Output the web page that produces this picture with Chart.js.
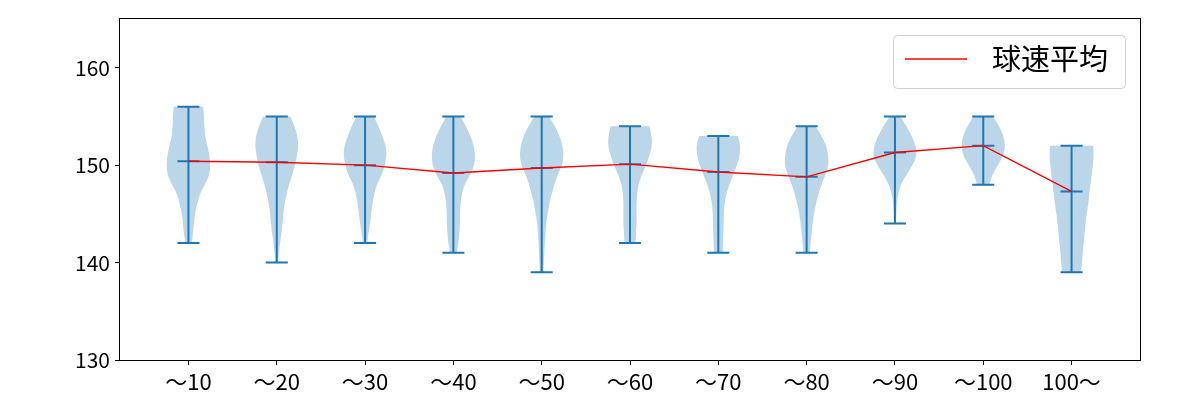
<!DOCTYPE html>
<html>
<head>
<meta charset="utf-8">
<script src="https://cdn.jsdelivr.net/npm/chart.js@4"></script>
<style>
  html, body { margin: 0; padding: 0; background: #fff; }
  #wrap { width: 1200px; height: 400px; }
</style>
</head>
<body>
<div id="wrap"><canvas id="chart" width="1200" height="400"></canvas></div>
<script>
// カテゴリ
const labels = ['〜10', '〜20', '〜30', '〜40', '〜50', '〜60', '〜70', '〜80', '〜90', '〜100', '100〜'];
// 球速平均
const means = [150.4, 150.3, 150.0, 149.2, 149.7, 150.1, 149.3, 148.8, 151.3, 152.0, 147.3];
// 最大・最小
const maxs = [156, 155, 155, 155, 155, 154, 153, 154, 155, 155, 152];
const mins = [142, 140, 142, 141, 139, 142, 141, 141, 144, 148, 139];
// バイオリンの幅 (最大から最小まで 1km/h 刻み、相対値)
const violinWidths = [
  [0.67, 0.70, 0.72, 0.75, 0.86, 0.95, 1.0, 0.95, 0.75, 0.5, 0.4, 0.29, 0.25, 0.21, 0.14],
  [0.62, 0.8, 0.94, 0.98, 0.92, 0.83, 0.7, 0.55, 0.45, 0.35, 0.3, 0.26, 0.21, 0.15, 0.1, 0.06],
  [0.4, 0.6, 0.78, 0.94, 0.98, 0.9, 0.76, 0.53, 0.41, 0.33, 0.27, 0.23, 0.15, 0.1],
  [0.32, 0.56, 0.78, 0.92, 0.99, 0.95, 0.77, 0.5, 0.38, 0.32, 0.3, 0.3, 0.27, 0.23, 0.15],
  [0.33, 0.6, 0.81, 0.95, 1.0, 0.93, 0.72, 0.57, 0.45, 0.34, 0.27, 0.2, 0.17, 0.14, 0.12, 0.1, 0.08],
  [0.88, 0.98, 1.0, 0.88, 0.73, 0.53, 0.38, 0.32, 0.29, 0.3, 0.3, 0.27, 0.25],
  [0.88, 1.0, 0.97, 0.85, 0.67, 0.5, 0.36, 0.28, 0.25, 0.24, 0.23, 0.21, 0.2],
  [0.4, 0.68, 0.89, 0.98, 1.0, 0.85, 0.67, 0.53, 0.42, 0.33, 0.27, 0.23, 0.18, 0.15],
  [0.24, 0.52, 0.76, 0.94, 1.0, 0.8, 0.52, 0.26, 0.14, 0.08, 0.06, 0.05],
  [0.44, 0.72, 0.92, 1.0, 0.92, 0.66, 0.4, 0.29],
  [0.98, 1.0, 0.97, 0.91, 0.86, 0.8, 0.76, 0.68, 0.64, 0.59, 0.55, 0.5, 0.48, 0.42]
];
const yTicks = [130, 140, 150, 160];
const legendLabel = '球速平均';

const FONT = "'Noto Sans CJK JP', 'Noto Sans', sans-serif";
const BLUE = '#1f77b4';

// バイオリン描画
const violinPlugin = {
  id: 'violins',
  beforeDatasetsDraw(chart) {
    const ctx = chart.ctx;
    const xs = chart.scales.x, ys = chart.scales.y;
    const unit = xs.getPixelForValue(1) - xs.getPixelForValue(0);
    ctx.save();
    violinWidths.forEach((ws, i) => {
      const cx = xs.getPixelForValue(i + 1);
      const pts = ws.map((w, k) => ({ y: ys.getPixelForValue(maxs[i] - k), h: w * 0.25 * unit }));
      ctx.beginPath();
      // 右側
      ctx.moveTo(cx, pts[0].y);
      ctx.lineTo(cx + pts[0].h, pts[0].y);
      for (let k = 1; k < pts.length; k++) {
        const p = pts[k - 1], q = pts[k];
        const mx = cx + (p.h + q.h) / 2, my = (p.y + q.y) / 2;
        ctx.quadraticCurveTo(cx + p.h, p.y, mx, my);
      }
      const last = pts[pts.length - 1];
      ctx.lineTo(cx + last.h, last.y);
      ctx.lineTo(cx - last.h, last.y);
      // 左側
      for (let k = pts.length - 2; k >= 0; k--) {
        const p = pts[k + 1], q = pts[k];
        const mx = cx - (p.h + q.h) / 2, my = (p.y + q.y) / 2;
        ctx.quadraticCurveTo(cx - p.h, p.y, mx, my);
      }
      ctx.lineTo(cx - pts[0].h, pts[0].y);
      ctx.closePath();
      ctx.fillStyle = 'rgba(31,119,180,0.3)';
      ctx.fill();

      // ひげ
      ctx.strokeStyle = BLUE;
      ctx.lineWidth = 2;
      const capW = 0.125 * unit;
      ctx.beginPath();
      ctx.moveTo(cx, ys.getPixelForValue(maxs[i]));
      ctx.lineTo(cx, ys.getPixelForValue(mins[i]));
      [maxs[i], mins[i], means[i]].forEach(v => {
        const y = ys.getPixelForValue(v);
        ctx.moveTo(cx - capW, y);
        ctx.lineTo(cx + capW, y);
      });
      ctx.stroke();
    });
    ctx.restore();
  },
  afterDraw(chart) {
    const ctx = chart.ctx;
    const a = chart.chartArea;
    ctx.save();
    // 枠線
    ctx.strokeStyle = '#000';
    ctx.lineWidth = 1;
    ctx.strokeRect(Math.round(a.left) - 0.5, Math.round(a.top) - 0.5, Math.round(a.right - a.left) + 1, Math.round(a.bottom - a.top) + 1);
    // 凡例
    const bx = a.right - 247, by = a.top + 16, bw = 232, bh = 53;
    ctx.beginPath();
    ctx.roundRect(bx + 0.5, by + 0.5, bw, bh, 4);
    ctx.fillStyle = 'rgba(255,255,255,0.8)';
    ctx.fill();
    ctx.strokeStyle = '#d0d0d0';
    ctx.stroke();
    ctx.strokeStyle = 'red';
    ctx.lineWidth = 1.4;
    ctx.beginPath();
    ctx.moveTo(bx + 12, by + 24);
    ctx.lineTo(bx + 74, by + 24);
    ctx.stroke();
    ctx.fillStyle = '#000';
    ctx.font = '29px ' + FONT;
    ctx.textBaseline = 'middle';
    ctx.fillText(legendLabel, bx + 99, by + 24);
    ctx.restore();
  }
};

new Chart(document.getElementById('chart'), {
  type: 'line',
  data: {
    datasets: [{
      label: legendLabel,
      data: means.map((m, i) => ({ x: i + 1, y: m })),
      borderColor: 'red',
      borderWidth: 1.4,
      pointRadius: 0,
      tension: 0,
      fill: false
    }]
  },
  options: {
    responsive: false,
    animation: false,
    layout: { padding: { left: 0, top: 19, right: 60, bottom: 0 } },
    plugins: { legend: { display: false }, tooltip: { enabled: false } },
    scales: {
      x: {
        type: 'linear',
        min: 0.225,
        max: 11.775,
        afterBuildTicks(scale) {
          scale.ticks = labels.map((l, i) => ({ value: i + 1 }));
        },
        afterFit(scale) { scale.height = 40; },
        ticks: {
          autoSkip: false,
          maxRotation: 0,
          padding: 3,
          color: '#000',
          font: { family: FONT, size: 22 },
          callback: (v) => labels[v - 1]
        },
        grid: { display: true, drawOnChartArea: false, drawTicks: true, tickLength: 5, color: '#000' },
        border: { display: false }
      },
      y: {
        min: 130,
        max: 165,
        afterBuildTicks(scale) {
          scale.ticks = yTicks.map(v => ({ value: v }));
        },
        afterFit(scale) { scale.width = 120; },
        ticks: {
          padding: 5,
          color: '#000',
          font: { family: FONT, size: 21 }
        },
        grid: { display: true, drawOnChartArea: false, drawTicks: true, tickLength: 5, color: '#000' },
        border: { display: false }
      }
    }
  },
  plugins: [violinPlugin]
});
</script>
</body>
</html>
